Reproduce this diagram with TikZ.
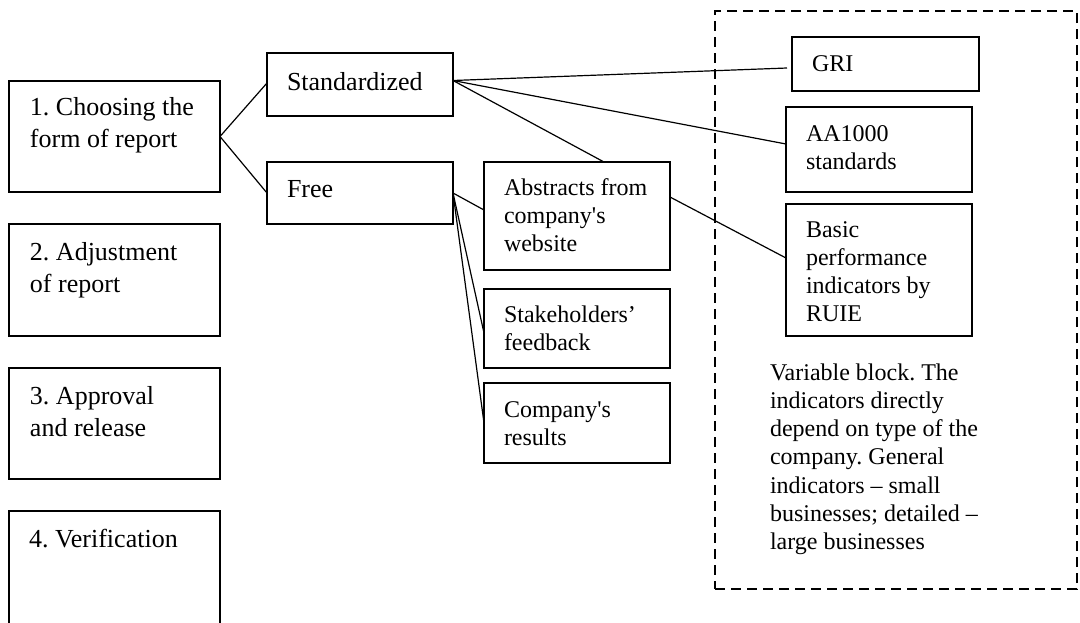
\documentclass[tikz,border=0pt]{standalone}
\usepackage{fontspec}
\setmainfont{Liberation Serif}[Ligatures=TeXOff]
\frenchspacing
\newcommand\mlines[1]{\begin{tabular}[t]{@{}l@{}}#1\end{tabular}}
\tikzset{
  box/.style={draw, line width=1.4pt, inner sep=0pt, outer sep=0pt, anchor=north west},
  lbl/.style={anchor=base west, inner sep=0pt, outer sep=0pt},
  bigtxt/.style={lbl, font=\fontsize{26}{32}\selectfont},
  smalltxt/.style={lbl, font=\fontsize{24}{28.3}\selectfont},
  link/.style={line width=1.2pt},
  varblock/.style={draw, line width=1.4pt, dash pattern=on 10pt off 6pt, inner sep=0pt, outer sep=0pt, anchor=north west}
}
\begin{document}
\frenchspacing
\begin{tikzpicture}[x=1pt, y=-1pt]
\useasboundingbox (0,0) rectangle (1080,622);
\clip (0,0) rectangle (1080,622);
% left column
\node[box, minimum width=211pt, minimum height=111pt] (b1) at (9,81) {};
\node[box, minimum width=211pt, minimum height=112pt] (b2) at (9,224) {};
\node[box, minimum width=211pt, minimum height=111pt] (b3) at (9,368) {};
\node[box, minimum width=211pt, minimum height=130pt] (b4) at (9,511) {};
\node[bigtxt] (t1) at (30,115) {\mlines{1. Choosing the\\form of report}};
\node[bigtxt] (t2) at (30,260) {\mlines{2. Adjustment\\of report}};
\node[bigtxt] (t3) at (30,404) {\mlines{3. Approval\\and release}};
\node[bigtxt] (t4) at (29,547) {4. Verification};
% second column
\node[box, minimum width=186pt, minimum height=63pt] (std) at (267,53) {};
\node[box, minimum width=186pt, minimum height=62pt] (free) at (267,162) {};
\node[bigtxt] (tstd) at (287,90) {Standardized};
\node[bigtxt] (tfree) at (287,197) {Free};
% third column
\node[box, minimum width=186pt, minimum height=108pt] (abs) at (484,162) {};
\node[box, minimum width=186pt, minimum height=79pt] (stk) at (484,289) {};
\node[box, minimum width=186pt, minimum height=80pt] (res) at (484,383) {};
\node[smalltxt] (tabs) at (504,195) {\mlines{Abstracts from\\company's\\website}};
\node[smalltxt] (tstk) at (504,322) {\mlines{Stakeholders’\\feedback}};
\node[smalltxt] (tres) at (504,417) {\mlines{Company's\\results}};
% variable block
\node[varblock, minimum width=362pt, minimum height=578pt] (var) at (715,11) {};
\node[box, minimum width=187pt, minimum height=54pt] (gri) at (792,37) {};
\node[box, minimum width=186pt, minimum height=85pt] (aa) at (786,107) {};
\node[box, minimum width=186pt, minimum height=132pt] (bpi) at (786,204) {};
\node[smalltxt] (tgri) at (812,71) {GRI};
\node[smalltxt] (taa) at (806,141) {\mlines{AA1000\\standards}};
\node[smalltxt] (tbpi) at (806,237) {\mlines{Basic\\performance\\indicators by\\RUIE}};
\node[smalltxt] (tvar) at (770,380) {\mlines{Variable block. The\\indicators directly\\depend on type of the\\company. General\\indicators – small\\businesses; detailed –\\large businesses}};
% connectors
\draw[link] (b1.east) -- ([yshift=1.5pt]std.west);
\draw[link] (b1.east) -- (free.west);
\draw[link] ([yshift=4pt]std.east) -- ([yshift=-4pt,xshift=-5pt]gri.west);
\draw[link] ([yshift=4pt]std.east) -- ([yshift=5.5pt]aa.west);
\draw[link] ([yshift=4pt]std.east) -- ([xshift=27pt]abs.north);
\draw[link] (free.east) -- ([yshift=6pt]abs.west);
\draw[link] (free.east) -- ([yshift=-4.5pt]stk.west);
\draw[link] (free.east) -- (res.west);
\draw[link] ([yshift=19pt]abs.east) -- ([yshift=12pt]bpi.west);
\end{tikzpicture}
\end{document}
